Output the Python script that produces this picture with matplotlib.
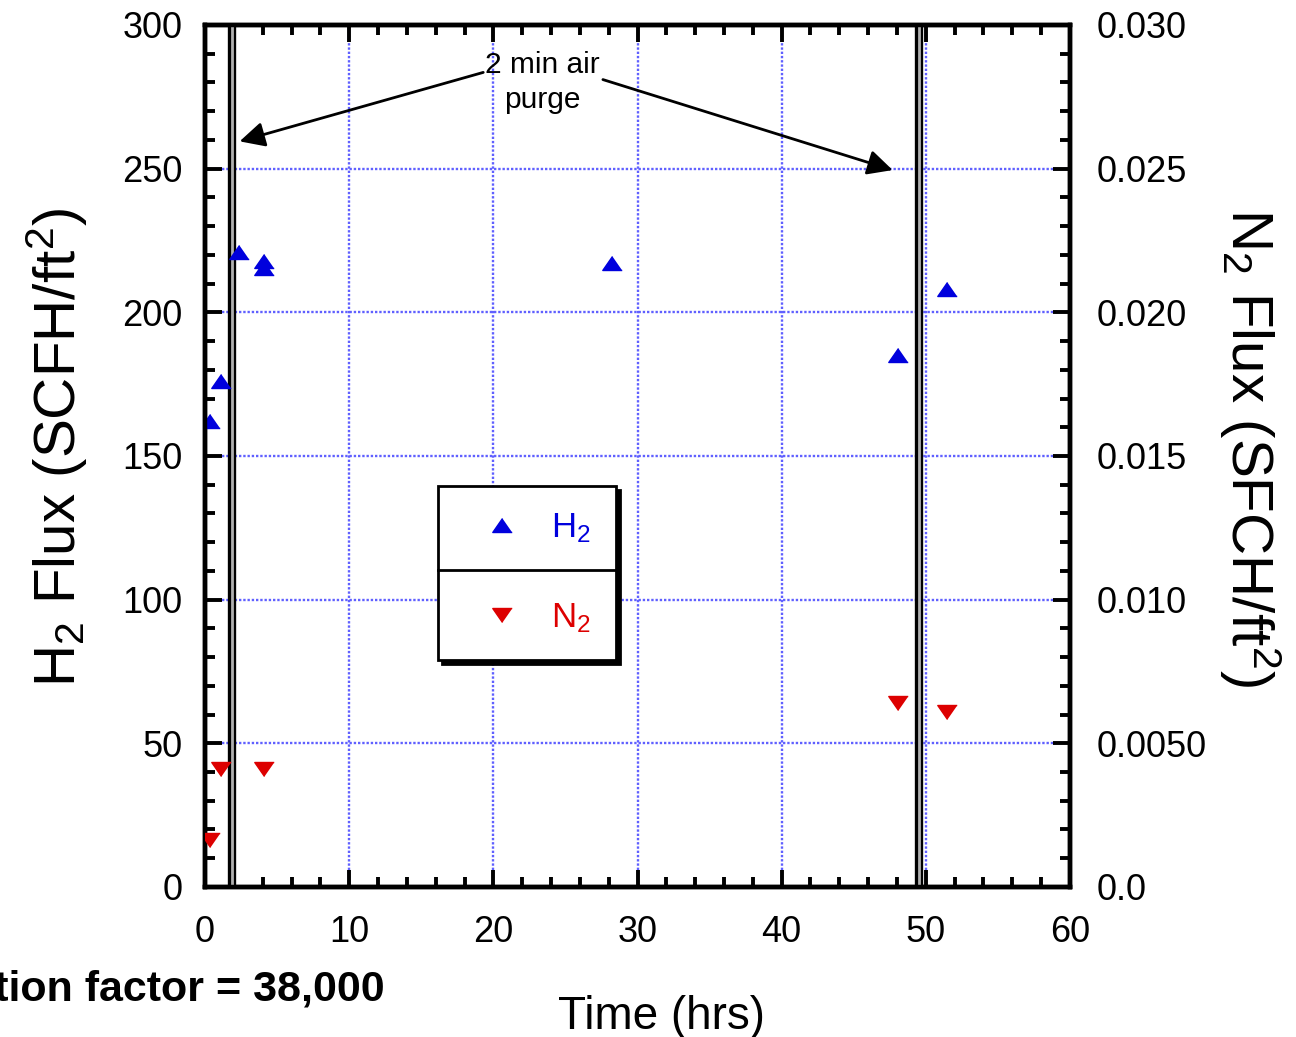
import matplotlib
matplotlib.use("Agg")
import matplotlib.pyplot as plt
from matplotlib.lines import Line2D

plt.rcParams['font.family'] = ['Liberation Sans', 'DejaVu Sans']
plt.rcParams['mathtext.default'] = 'regular'

# data
h2_time = [0.35, 1.1, 2.35, 4.1, 4.1, 28.2, 48.1, 51.5]
h2_flux = [162, 176, 221, 218, 215.5, 217, 185, 208]          # SCFH/ft2
n2_time = [0.35, 1.1, 4.1, 48.1, 51.5]
n2_flux = [0.00165, 0.0041, 0.0041, 0.0064, 0.0061]           # SFCH/ft2
purge_times = [1.9, 49.5]

x_ticks = [0, 10, 20, 30, 40, 50, 60]
h2_ticks = [0, 50, 100, 150, 200, 250, 300]
n2_ticks = [0.0, 0.005, 0.010, 0.015, 0.020, 0.025, 0.030]
n2_tick_labels = ['0.0', '0.0050', '0.010', '0.015', '0.020', '0.025', '0.030']

blue = '#0000dd'
red = '#dd0000'
grid_col = '#6060ff'

# flatter triangles than the default markers
tri_up = [(0, 0.72), (-1, -0.72), (1, -0.72)]
tri_down = [(0, -0.72), (-1, 0.72), (1, 0.72)]

fig = plt.figure(figsize=(12.96, 10.37), dpi=100)
ax = fig.add_axes([0.1582, 0.1447, 0.6674, 0.8312])
ax2 = ax.twinx()

ax.set_xlim(0, 60)
ax.set_ylim(0, 300)
ax2.set_ylim(0, 0.03)
ax.set_xticks(x_ticks)
ax.set_yticks(h2_ticks)
ax.set_xticks(range(0, 61, 2), minor=True)
ax.set_yticks(range(0, 301, 10), minor=True)
ax2.set_yticks(n2_ticks)
ax2.set_yticklabels(n2_tick_labels)
ax2.set_yticks([v / 1000 for v in range(0, 31)], minor=True)

ax.grid(True, which='major', color=grid_col, linestyle=(0, (1, 0.8)), linewidth=1.7)
ax.set_axisbelow(True)

for t in purge_times:
    ax.axvline(t, color='black', linewidth=6, zorder=3)
    ax.axvline(t, color='#b0b0b0', linewidth=2, zorder=3)

ax.plot(h2_time, h2_flux, linestyle='none', marker=tri_up, markersize=14,
        color=blue, zorder=4)
ax2.plot(n2_time, n2_flux, linestyle='none', marker=tri_down, markersize=14,
         color=red, zorder=4)

for a in (ax, ax2):
    for s in a.spines.values():
        s.set_linewidth(3.2)
ax.tick_params(which='both', direction='in', top=True, right=False,
               width=2.8, labelsize=26)
ax.tick_params(axis='y', pad=16)
ax.tick_params(axis='x', pad=20)
ax.tick_params(which='major', length=12)
ax.tick_params(which='minor', length=7)
ax2.tick_params(which='both', direction='in', width=2.8, labelsize=26, pad=19)
ax2.tick_params(which='major', length=12)
ax2.tick_params(which='minor', length=7)

ax.set_xlabel('Time (hrs)', fontsize=33)
ax.xaxis.set_label_coords(0.528, -0.125)
ax.set_ylabel('H$_2$ Flux (SCFH/ft$^2$)', fontsize=42)
ax.yaxis.set_label_coords(-0.133, 0.51)
ax2.set_ylabel('N$_2$ Flux (SFCH/ft$^2$)', fontsize=42, rotation=-90)
ax2.yaxis.set_label_coords(1.246, 0.51)

# purge annotation
ax.text(23.4, 280, '2 min air\npurge', fontsize=21.5, ha='center', va='center',
        linespacing=1.3, zorder=6)
arrow = dict(arrowstyle='-|>', color='black', lw=2, mutation_scale=38,
             shrinkA=0, shrinkB=0)
ax.annotate('', xy=(2.4, 259.5), xytext=(19.3, 283.5), arrowprops=arrow, zorder=6)
ax.annotate('', xy=(47.7, 249.5), xytext=(27.6, 281), arrowprops=arrow, zorder=6)

handles = [Line2D([], [], linestyle='none', marker=tri_up, markersize=14, color=blue),
           Line2D([], [], linestyle='none', marker=tri_down, markersize=14, color=red)]
leg = ax2.legend(handles, ['H$_2$', 'N$_2$'], loc='upper left',
                 bbox_to_anchor=(0.269, 0.465), fontsize=25, frameon=True,
                 fancybox=False, edgecolor='black', framealpha=1,
                 shadow={'ox': 3, 'oy': -3, 'color': 'black', 'alpha': 1},
                 labelspacing=1.62, borderpad=0.72, handlelength=2.25,
                 handletextpad=0.3, borderaxespad=0, labelcolor=[blue, red])
leg.get_frame().set_linewidth(2)
leg.set_zorder(7)

fig.canvas.draw()
bb = leg.get_frame().get_window_extent().transformed(ax2.transAxes.inverted())
ax2.add_line(Line2D([bb.x0, bb.x1], [(bb.y0 + bb.y1) / 2 + 0.004] * 2, color='black',
                    linewidth=2, transform=ax2.transAxes, zorder=8))

fig.text(385 / 1296, 1 - 990 / 1037, 'Separation factor = 38,000', fontsize=31,
         fontweight='bold', ha='right', va='center')

fig.savefig('out.png', dpi=100)
